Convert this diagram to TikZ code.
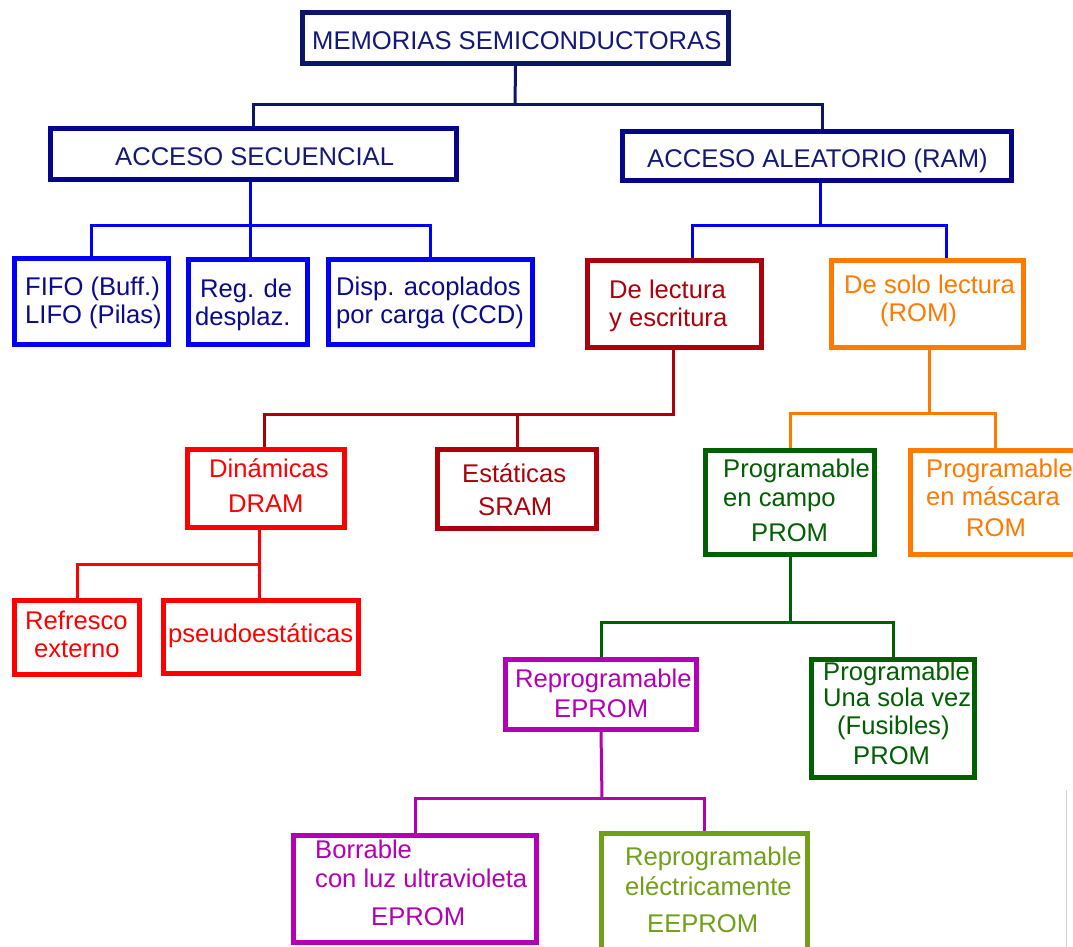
\documentclass[tikz,border=0pt]{standalone}
\usepackage{fontspec}
\setmainfont{Liberation Sans}
\definecolor{cnavy}{RGB}{12,22,105}
\definecolor{cnavytxt}{RGB}{20,25,120}
\definecolor{cdblue}{RGB}{5,5,140}
\definecolor{cblue}{RGB}{0,0,250}
\definecolor{cbluetxt}{RGB}{10,10,140}
\definecolor{cdred}{RGB}{172,0,10}
\definecolor{cred}{RGB}{255,0,0}
\definecolor{corange}{RGB}{255,122,0}
\definecolor{cgreen}{RGB}{0,95,0}
\definecolor{cmag}{RGB}{180,0,180}
\definecolor{colive}{RGB}{112,160,25}
\tikzset{
  bx/.style={draw=#1, line width=5pt, rectangle, inner sep=0pt, fill=white},
  txt/.style={text=#1, inner sep=0pt, anchor=base west, font=\fontsize{25.6}{30}\selectfont},
  cn/.style={draw=#1, line width=3pt},
}
\newcommand\mybox[6]{\node[bx=#2, minimum width={#5-#3-5}, minimum height={#6-#4-5}] (#1) at ({(#3+#5)/2},{(#4+#6)/2}) {};}
\begin{document}
\begin{tikzpicture}[x=1pt,y=-1pt]
\useasboundingbox (0,0) rectangle (1073,947);
\clip (0,0) rectangle (1073,947);
% junction coordinates
\coordinate (j0) at (515,105);
\coordinate (j1) at (250,225);
\coordinate (j2) at (820,225);
\coordinate (j3) at (264,414);
\coordinate (j4) at (259,564);
\coordinate (j5) at (929,413);
\coordinate (j6) at (790,622);
\coordinate (j7) at (602,798);
\coordinate (g1) at (1066,790);
\coordinate (g2) at (1066,947);
% boxes
\mybox{title}{cnavy}{300}{10}{731}{66}
\mybox{sec}{cdblue}{48}{126}{459}{182}
\mybox{ram}{cdblue}{620}{129}{1014}{183}
\mybox{fifo}{cblue}{12}{256}{171}{347}
\mybox{reg}{cblue}{186}{257}{310}{347}
\mybox{disp}{cblue}{326}{257}{535}{347}
\mybox{lect}{cdred}{585}{258}{764}{350}
\mybox{rom}{corange}{829}{258}{1026}{350}
\mybox{din}{cred}{185}{447}{347}{530}
\mybox{est}{cdred}{435}{447}{599}{531}
\mybox{campo}{cgreen}{703}{448}{877}{557}
\mybox{masc}{corange}{908}{448}{1090}{557}
\mybox{refr}{cred}{12}{598}{142}{677}
\mybox{pseudo}{cred}{161}{598}{361}{676}
\mybox{epr}{cmag}{503}{657}{699}{732}
\mybox{una}{cgreen}{809}{657}{977}{780}
\mybox{borr}{cmag}{291}{833}{539}{945}
\mybox{eep}{colive}{599}{831}{810}{965}
% connectors between boxes
\draw[cn=cnavy] (title.south) -- (j0);
\draw[cn=cnavy] (sec.north) |- (j0) -| ([xshift=5pt]ram.north);
\draw[cn=cblue] ([xshift=-3.5pt]sec.south) -- ([xshift=2pt]reg.north);
\draw[cn=cblue] (fifo.north) |- (j1) -| (disp.north);
\draw[cn=cblue] ([xshift=3pt]ram.south) -- (j2);
\draw[cn=cblue] ([xshift=17.5pt]lect.north) |- (j2) -| ([xshift=18.5pt]rom.north);
\draw[cn=cdred] ([xshift=-1.5pt]lect.south) |- (j3) -- ([xshift=-2pt]din.north);
\draw[cn=cdred] (est.north) -- (est.north |- j3);
\draw[cn=cred] ([xshift=-7pt]din.south) -- ([xshift=-2pt]pseudo.north);
\draw[cn=cred] (refr.north) |- (j4);
\draw[cn=corange] ([xshift=1.5pt]rom.south) -- (j5);
\draw[cn=corange] (campo.north) |- (j5) -| ([xshift=-4pt]masc.north);
\draw[cn=cgreen] (campo.south) -- (j6);
\draw[cn=cgreen] (epr.north) |- (j6) -| (una.north);
\draw[cn=cmag] (epr.south) -- (j7);
\draw[cn=cmag] (borr.north) |- (j7) -| (eep.north);
\draw[draw=black!18, line width=1pt] (g1) -- (g2);
% texts
\node[txt=cnavytxt] (t1) at (312,50) {MEMORIAS SEMICONDUCTORAS};
\node[txt=cnavytxt] (t2) at (115,165) {ACCESO SECUENCIAL};
\node[txt=cnavytxt] (t3) at (647,167) {ACCESO ALEATORIO (RAM)};
\node[txt=cbluetxt] (t4) at (25,295) {FIFO (Buff.)};
\node[txt=cbluetxt] (t5) at (25,323) {LIFO (Pilas)};
\node[txt=cbluetxt] (t6) at (200,297) {Reg. de};
\node[txt=cbluetxt] (t7) at (195,325) {desplaz.};
\node[txt=cbluetxt] (t8) at (336,295) {Disp. acoplados};
\node[txt=cbluetxt] (t9) at (336,323) {por carga (CCD)};
\node[txt=cdred] (t10) at (609,298) {De lectura};
\node[txt=cdred] (t11) at (609,326) {y escritura};
\node[txt=corange] (t12) at (844,293) {De solo lectura};
\node[txt=corange] (t13) at (880,321) {(ROM)};
\node[txt=cred] (t14) at (209,477) {Dinámicas};
\node[txt=cred] (t15) at (228,512) {DRAM};
\node[txt=cdred] (t16) at (462,482) {Estáticas};
\node[txt=cdred] (t17) at (478,515) {SRAM};
\node[txt=cgreen] (t18) at (723,477) {Programable};
\node[txt=cgreen] (t19) at (723,506) {en campo};
\node[txt=cgreen] (t20) at (751,541) {PROM};
\node[txt=corange] (t21) at (926,477) {Programable};
\node[txt=corange] (t22) at (926,505) {en máscara};
\node[txt=corange] (t23) at (966,536) {ROM};
\node[txt=cred] (t24) at (25,629) {Refresco};
\node[txt=cred] (t25) at (34,657) {externo};
\node[txt=cred] (t26) at (168,642) {pseudoestáticas};
\node[txt=cmag] (t27) at (515,687) {Reprogramable};
\node[txt=cmag] (t28) at (554,717) {EPROM};
\node[txt=cgreen] (t29) at (823,680) {Programable};
\node[txt=cgreen] (t30) at (823,706) {Una sola vez};
\node[txt=cgreen] (t31) at (837,734) {(Fusibles)};
\node[txt=cgreen] (t32) at (853,764) {PROM};
\node[txt=cmag] (t33) at (315,858) {Borrable};
\node[txt=cmag] (t34) at (315,887) {con luz ultravioleta};
\node[txt=cmag] (t35) at (371,925) {EPROM};
\node[txt=colive] (t36) at (625,865) {Reprogramable};
\node[txt=colive] (t37) at (625,895) {eléctricamente};
\node[txt=colive] (t38) at (647,932) {EEPROM};
\end{tikzpicture}
\end{document}
